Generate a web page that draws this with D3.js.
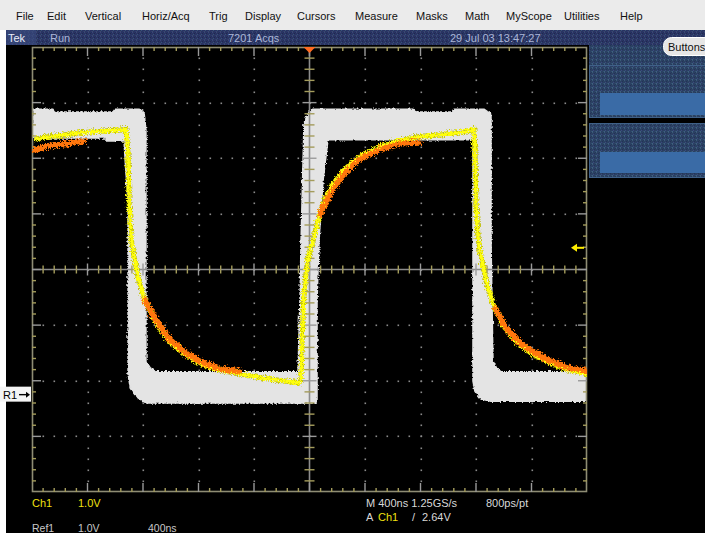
<!DOCTYPE html>
<html><head><meta charset="utf-8">
<script src="https://cdn.jsdelivr.net/npm/d3@7/dist/d3.min.js"></script>
<style>
html,body{margin:0;padding:0;background:#fff;overflow:hidden;}
svg{display:block;}
text{font-family:"Liberation Sans",Arial,sans-serif;}
</style></head><body>
<svg id="c" width="705" height="533"></svg>
<script>
// ---------------- data ----------------
const menuItems = ["File","Edit","Vertical","Horiz/Acq","Trig","Display","Cursors","Measure","Masks","Math","MyScope","Utilities","Help"];
const statusItems = ["Tek","Run","7201 Acqs","29 Jul 03 13:47:27"];
const timeRangeNs = [0, 4000];       // 10 div x 400 ns
const voltRange = [-1.75, 6.25];     // 8 div x 1.0 V
const timePerDiv = 400, voltPerDiv = 1.0;
const triggerLevel = 2.64;
const refGround = 0;

// Ch1 live trace (yellow): time (ns), volts
const ch1T = [0,94,202,310,418,526,663,677,685,699,721,757,800,872,973,1088,1211,1333,1499,1679,1910,
              1924,1932,1946,1968,1989,2018,2054,2097,2155,2220,2292,2364,2508,2652,2796,2940,3085,3171,
              3178,3185,3200,3215,3265,3315,3387,3481,3589,3712,3841,4000];
const ch1V = [4.63,4.67,4.70,4.74,4.76,4.78,4.80,4.40,3.50,2.87,2.51,2.06,1.72,1.36,1.00,0.76,0.58,0.48,0.40,0.32,0.25,
              0.32,0.98,1.88,2.38,2.62,2.86,3.24,3.56,3.82,4.04,4.21,4.34,4.51,4.62,4.68,4.71,4.76,4.80,
              4.40,3.50,2.87,2.60,2.01,1.62,1.26,0.98,0.77,0.61,0.49,0.40];

// Ch1 high-density segments (orange)
const orangeSegT = [[0,100,250,360],
                    [800,872,973,1088,1211,1333,1477],
                    [2061,2097,2155,2220,2292,2364,2508,2631,2775],
                    [3322,3387,3481,3589,3712,3841,4000]];
const orangeSegV = [[4.45,4.51,4.56,4.61],
                    [1.74,1.40,1.04,0.80,0.62,0.51,0.46],
                    [3.28,3.48,3.75,3.98,4.16,4.31,4.47,4.56,4.58],
                    [1.59,1.29,1.02,0.82,0.66,0.53,0.46]];

// Ref1 envelope (white band): upper/outer side then lower/inner side
const refPT = [0,144,151,577,591,764,800,814,814,850,886,1910,1924,1932,1953,1989,2018,2746,2753,3027,3034,3250,3301,3301,3315,3344,3373,4000];
const refPV = [5.15,5.15,5.10,5.10,5.15,5.15,5.10,4.76,0.62,0.48,0.43,0.43,1.70,2.78,4.88,5.10,5.15,5.15,5.10,5.10,5.15,5.15,5.06,2.78,0.62,0.48,0.43,0.43];
const refQT = [4000,3301,3229,3185,3171,3171,2126,2090,2061,2047,2047,814,757,699,685,685,670,656,526,526,0];
const refQV = [-0.10,-0.10,-0.06,0.08,0.26,4.60,4.60,3.86,2.78,1.70,-0.13,-0.13,-0.04,0.17,0.39,3.50,4.00,4.58,4.58,4.63,4.63];

const bottomRow1 = [["Ch1","1.0V"],["M 400ns 1.25GS/s","800ps/pt"]];
const bottomRow2 = ["A","Ch1","/","2.64V"];
const bottomRow3 = ["Ref1","1.0V","400ns"];

// ---------------- layout ----------------
const W = 705, H = 533;
const G = {x0:32, x1:587, y0:47, y1:492};
const menuX = [16,47,85,142,209,245,297,355,416,465,506,564,620];

const svg = d3.select("#c");
const defs = svg.append("defs");

// textures
const pat = defs.append("pattern").attr("id","tex").attr("width",4).attr("height",4).attr("patternUnits","userSpaceOnUse");
pat.append("rect").attr("width",4).attr("height",4).attr("fill","#2a3462");
[[0,0,"#3a4678"],[2,1,"#1f2850"],[1,2,"#36527a"],[3,3,"#2e3a70"],[3,0,"#22305a"],[0,3,"#3c4a6a"]]
  .forEach(d=>pat.append("rect").attr("x",d[0]).attr("y",d[1]).attr("width",1).attr("height",1).attr("fill",d[2]));
const pat2 = defs.append("pattern").attr("id","tex2").attr("width",4).attr("height",4).attr("patternUnits","userSpaceOnUse");
pat2.append("rect").attr("width",4).attr("height",4).attr("fill","#2b4062");
[[0,0,"#3a5a78"],[2,1,"#223456"],[1,2,"#3a4a80"],[3,3,"#305070"],[3,0,"#25385a"],[0,3,"#406080"]]
  .forEach(d=>pat2.append("rect").attr("x",d[0]).attr("y",d[1]).attr("width",1).attr("height",1).attr("fill",d[2]));

function jitter(id, freq, scale, seed){
  const f = defs.append("filter").attr("id",id).attr("filterUnits","userSpaceOnUse")
    .attr("x",0).attr("y",0).attr("width",W).attr("height",H);
  f.append("feTurbulence").attr("type","turbulence").attr("baseFrequency",freq).attr("numOctaves",1).attr("seed",seed).attr("result","t");
  f.append("feDisplacementMap").attr("in","SourceGraphic").attr("in2","t").attr("scale",scale)
    .attr("xChannelSelector","R").attr("yChannelSelector","G");
}
jitter("jy", 0.55, 6, 2);
jitter("jo", 0.45, 7, 7);
jitter("jr", 0.25, 3, 4);

defs.append("clipPath").attr("id","gclip").append("rect")
  .attr("x",G.x0).attr("y",G.y0).attr("width",G.x1-G.x0).attr("height",G.y1-G.y0);

// ---------------- background ----------------
svg.append("rect").attr("width",W).attr("height",H).attr("fill","#ffffff");
svg.append("rect").attr("x",0).attr("y",0).attr("width",W).attr("height",30).attr("fill","#ebebeb");
svg.append("rect").attr("x",6).attr("y",30).attr("width",W-6).attr("height",H-30).attr("fill","#000");
svg.append("rect").attr("x",6).attr("y",30).attr("width",W-6).attr("height",15).attr("fill","url(#tex)");
svg.append("rect").attr("x",6).attr("y",30).attr("width",30).attr("height",15).attr("fill","#3c4c80").attr("opacity",0.6);

// menu
svg.append("g").selectAll("text").data(menuItems).join("text")
  .attr("x",(d,i)=>menuX[i]).attr("y",20).attr("font-size",11).attr("fill","#111").text(d=>d);

// status bar
const statusX = [8,50,228,450];
const statusFill = ["#e8ecf8","#aab6d8","#aab6d8","#aab6d8"];
svg.append("g").selectAll("text").data(statusItems).join("text")
  .attr("x",(d,i)=>statusX[i]).attr("y",42).attr("font-size",11)
  .attr("fill",(d,i)=>statusFill[i]).text(d=>d);

// right panel
svg.append("rect").attr("x",589).attr("y",45).attr("width",W-589).attr("height",73).attr("fill","url(#tex2)");
svg.append("rect").attr("x",589).attr("y",123).attr("width",W-589).attr("height",55).attr("fill","url(#tex2)");
svg.append("rect").attr("x",589.5).attr("y",65.5).attr("width",W-589).attr("height",52).attr("fill","none").attr("stroke","#3f6088");
svg.append("rect").attr("x",589.5).attr("y",123.5).attr("width",W-589).attr("height",54).attr("fill","none").attr("stroke","#3f6088");
svg.append("rect").attr("x",600).attr("y",93).attr("width",W-600).attr("height",22).attr("fill","#3a6ba6");
svg.append("rect").attr("x",600).attr("y",152).attr("width",W-600).attr("height",21).attr("fill","#3a6ba6");
svg.append("rect").attr("x",663.5).attr("y",37.5).attr("width",60).attr("height",18).attr("rx",8)
  .attr("fill","#e6e6e6").attr("stroke","#ffffff");
svg.append("text").attr("x",668).attr("y",51).attr("font-size",11).attr("fill","#111").text("Buttons");

// ---------------- scales ----------------
const x = d3.scaleLinear().domain(timeRangeNs).range([G.x0, G.x1]);
const y = d3.scaleLinear().domain(voltRange).range([G.y1, G.y0]);
const nDivX = (timeRangeNs[1]-timeRangeNs[0])/timePerDiv;
const nDivY = (voltRange[1]-voltRange[0])/voltPerDiv;
const xMajor = d3.range(nDivX+1).map(i=>timeRangeNs[0]+i*timePerDiv);
const yMajor = d3.range(nDivY+1).map(i=>voltRange[0]+i*voltPerDiv);
const xMinor = d3.range(nDivX*5+1).map(i=>timeRangeNs[0]+i*timePerDiv/5);
const yMinor = d3.range(nDivY*5+1).map(i=>voltRange[0]+i*voltPerDiv/5);
const xC = x((timeRangeNs[0]+timeRangeNs[1])/2), yC = y((voltRange[0]+voltRange[1])/2);

// ---------------- graticule dots ----------------
const grid = svg.append("g");
const dots = [];
xMajor.slice(1,-1).forEach((t,i)=>{ if(i+1!==nDivX/2) yMinor.slice(1,-1).forEach(v=>dots.push([x(t),y(v)])); });
yMajor.slice(1,-1).forEach((v,i)=>{ if(i+1!==nDivY/2) xMinor.slice(1,-1).forEach(t=>dots.push([x(t),y(v)])); });
grid.selectAll("rect.dot").data(dots).join("rect").attr("class","dot")
  .attr("x",d=>Math.round(d[0])-0.5).attr("y",d=>Math.round(d[1])-0.5).attr("width",1.6).attr("height",1.6).attr("fill","#8a8a8a");

// ---------------- Ref1 band ----------------
const refPts = refPT.map((t,i)=>[t,refPV[i]]).concat(refQT.map((t,i)=>[t,refQV[i]]));
svg.append("path").attr("clip-path","url(#gclip)")
  .attr("d", d3.line().x(d=>x(d[0])).y(d=>y(d[1]))(refPts)+"Z")
  .attr("fill","#e4e4e4").attr("stroke","#e4e4e4").attr("stroke-width",1.5).attr("stroke-linejoin","round")
  .attr("filter","url(#jr)");

// ---------------- frame, center cross ----------------
const fr = svg.append("g");
fr.append("rect").attr("x",G.x0+0.5).attr("y",G.y0+0.5).attr("width",G.x1-G.x0-1).attr("height",G.y1-G.y0-1)
  .attr("fill","none").attr("stroke","#8e8c74").attr("stroke-width",1.6);
fr.append("line").attr("x1",G.x0).attr("x2",G.x1).attr("y1",yC).attr("y2",yC).attr("stroke","#8c8c8c").attr("stroke-width",1.6);
fr.append("line").attr("y1",G.y0).attr("y2",G.y1).attr("x1",xC).attr("x2",xC).attr("stroke","#8c8c8c").attr("stroke-width",1.6);
const isMajX = t => Math.abs(((t-timeRangeNs[0])/timePerDiv) - Math.round((t-timeRangeNs[0])/timePerDiv))<1e-6;
const isMajY = v => Math.abs(((v-voltRange[0])/voltPerDiv) - Math.round((v-voltRange[0])/voltPerDiv))<1e-6;
const minC = "#a49c5c", majC = "#9a9a9a";
xMinor.slice(1,-1).forEach(t=>{
  const m = isMajX(t), L = m?9:4;
  fr.append("line").attr("x1",x(t)).attr("x2",x(t)).attr("y1",G.y0).attr("y2",G.y0+L).attr("stroke",m?majC:minC).attr("stroke-width",1.4);
  fr.append("line").attr("x1",x(t)).attr("x2",x(t)).attr("y1",G.y1).attr("y2",G.y1-L).attr("stroke",m?majC:minC).attr("stroke-width",1.4);
  fr.append("line").attr("x1",x(t)).attr("x2",x(t)).attr("y1",yC-(m?6:4)).attr("y2",yC+(m?6:4)).attr("stroke",m?majC:minC).attr("stroke-width",1.4);
});
yMinor.slice(1,-1).forEach(v=>{
  const m = isMajY(v), L = m?9:4;
  fr.append("line").attr("y1",y(v)).attr("y2",y(v)).attr("x1",G.x0).attr("x2",G.x0+L).attr("stroke",m?majC:minC).attr("stroke-width",1.4);
  fr.append("line").attr("y1",y(v)).attr("y2",y(v)).attr("x1",G.x1).attr("x2",G.x1-L).attr("stroke",m?majC:minC).attr("stroke-width",1.4);
  fr.append("line").attr("y1",y(v)).attr("y2",y(v)).attr("x1",xC-(m?7:5)).attr("x2",xC+(m?7:5)).attr("stroke",m?majC:minC).attr("stroke-width",1.4);
});

// ---------------- traces ----------------
const line = d3.line().x(d=>x(d[0])).y(d=>y(d[1]));
const tr = svg.append("g").attr("clip-path","url(#gclip)");
tr.append("path").attr("d", line(ch1T.map((t,i)=>[t,ch1V[i]])))
  .attr("fill","none").attr("stroke","#b8b800").attr("stroke-width",5).attr("filter","url(#jy)");
tr.append("path").attr("d", line(ch1T.map((t,i)=>[t,ch1V[i]])))
  .attr("fill","none").attr("stroke","#ffff10").attr("stroke-width",3.5).attr("filter","url(#jy)");
orangeSegT.forEach((seg,k)=>{
  tr.append("path").attr("d", line(seg.map((t,i)=>[t,orangeSegV[k][i]])))
    .attr("fill","none").attr("stroke","#ff7608").attr("stroke-width",5.5).attr("stroke-linecap","round").attr("filter","url(#jo)");
});

// ---------------- markers ----------------
// trigger position (top)
svg.append("path").attr("d",`M${xC-6},${G.y0} L${xC+6},${G.y0} L${xC},${G.y0+6} Z`).attr("fill","#ff6a20");
// trigger level arrow (right)
const yt = y(triggerLevel);
svg.append("line").attr("x1",G.x1-3).attr("x2",G.x1-12).attr("y1",yt).attr("y2",yt).attr("stroke","#ffee00").attr("stroke-width",2);
svg.append("path").attr("d",`M${G.x1-16},${yt} L${G.x1-10},${yt-4} L${G.x1-10},${yt+4} Z`).attr("fill","#ffee00");
// R1 marker
const yr = y(refGround);
svg.append("rect").attr("x",0).attr("y",yr-8).attr("width",31).attr("height",15).attr("fill","#f4f4f4");
svg.append("text").attr("x",3).attr("y",yr+4).attr("font-size",11).attr("fill","#000").text("R1");
svg.append("line").attr("x1",19).attr("x2",27).attr("y1",yr).attr("y2",yr).attr("stroke","#000").attr("stroke-width",1.4);
svg.append("path").attr("d",`M30,${yr} L26,${yr-3} L26,${yr+3} Z`).attr("fill","#000");

// ---------------- bottom readouts ----------------
const yel = "#f0e010", wht = "#d8d8d8";
const b = svg.append("g").attr("font-size",11);
b.append("text").attr("x",32).attr("y",507).attr("fill",yel).text(bottomRow1[0][0]);
b.append("text").attr("x",78).attr("y",507).attr("fill",yel).text(bottomRow1[0][1]);
b.append("text").attr("x",366).attr("y",507).attr("fill",wht).text(bottomRow1[1][0]);
b.append("text").attr("x",486).attr("y",507).attr("fill",wht).text(bottomRow1[1][1]);
const r2x = [366,378,412,422], r2c = [wht,yel,wht,wht];
bottomRow2.forEach((s,i)=>b.append("text").attr("x",r2x[i]).attr("y",521).attr("fill",r2c[i]).text(s));
const r3x = [32,78,148];
bottomRow3.forEach((s,i)=>b.append("text").attr("x",r3x[i]).attr("y",532).attr("font-size",10.5).attr("fill","#c8c8c8").text(s));
</script>
</body></html>
